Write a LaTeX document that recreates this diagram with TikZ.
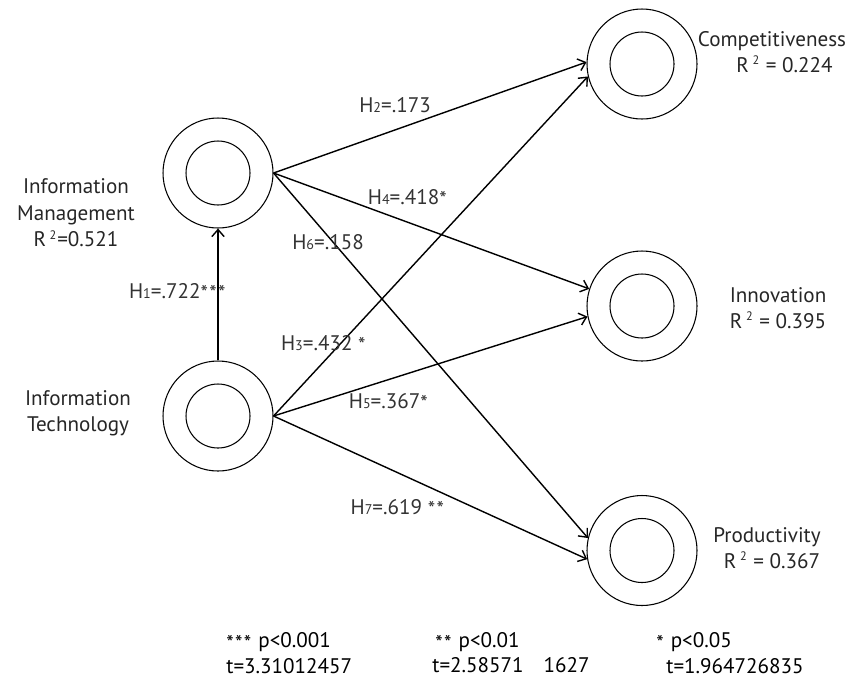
\documentclass[tikz,border=0pt]{standalone}
\usepackage{fontspec}
\setmainfont{PT Sans}
\usepackage{tikz}
\usetikzlibrary{arrows.meta}

\newcommand{\hsub}[1]{{\fontsize{8}{8}\selectfont #1}}
\newcommand{\rsq}{R\,\textsuperscript{\fontsize{7}{7}\selectfont 2}}
\newcommand{\astk}{\raisebox{-0.25ex}{*}\kern0.8pt}

\tikzset{
  construct/.style={circle, draw, line width=0.6pt, minimum size=2.2cm, inner sep=0pt,
    path picture={\draw[line width=0.6pt] (path picture bounding box.center) circle (0.64cm);}},
  path/.style={->, line width=0.8pt, >={Straight Barb[length=4pt,width=7pt]}},
  hyp/.style={inner sep=1pt, text=black!80},
  cname/.style={align=center, text=black!85},
  legend/.style={anchor=north west, inner sep=0pt, align=left, font=\fontsize{12}{15}\selectfont}
}

\begin{document}
\begin{tikzpicture}[font=\fontsize{12}{15}\selectfont]

\useasboundingbox (0,0) rectangle (17.1,-13.56);

% constructs
\node[construct] (IM) at (4.36,-3.46) {};
\node[construct] (IT) at (4.36,-8.32) {};
\node[construct] (Comp) at (12.84,-1.28) {};
\node[construct] (Inno) at (12.84,-6.12) {};
\node[construct] (Prod) at (12.84,-11.01) {};

\node[cname] (IMlab) at (1.52,-4.26) {Information\\Management\\\rsq=0.521};
\node[cname] (ITlab) at (1.56,-8.26) {Information\\Technology};
\node[cname] (Complab) at (15.44,-1.04) {Competitiveness\\\hspace*{0.5cm}\rsq{} = 0.224};
\node[cname] (Innolab) at (15.56,-6.16) {Innovation\\\rsq{} = 0.395};
\node[cname] (Prodlab) at (15.34,-10.96) {Productivity\\\hspace*{0.2cm}\rsq{} = 0.367};

% paths
\draw[path] (IT.north) -- (IM.south);
\draw[path] (IM.east) -- (Comp.178);
\draw[path] (IM.east) -- (Inno.162);
\draw[path] (IM.east) -- (Prod.167);
\draw[path] (IT.east) -- (Comp.193);
\draw[path] (IT.east) -- (Inno.191);
\draw[path] (IT.east) -- (Prod.189);

\node[hyp] (h1) at (3.56,-5.84) {H\hsub{1}=.722\astk\astk\astk};
\node[hyp] (h2) at (7.9,-2.1) {H\hsub{2}=.173};
\node[hyp] (h3) at (6.48,-6.88) {H\hsub{3}=.432 \astk};
\node[hyp] (h4) at (8.16,-3.96) {H\hsub{4}=.418\astk};
\node[hyp] (h5) at (7.78,-8.04) {H\hsub{5}=.367\astk};
\node[hyp] (h6) at (6.56,-4.84) {H\hsub{6}=.158};
\node[hyp] (h7) at (7.96,-10.16) {H\hsub{7}=.619 \astk\astk};

% significance levels
\node[legend] (sig1) at (4.52,-12.64) {\astk\astk\astk\ p<0.001\\t=3.31012457};
\node[legend] (sig2) at (8.7,-12.64) {\astk\astk\ p<0.01\\[-0.5pt]\hspace*{-0.06cm}t=2.58571\hspace{0.4cm}1627};
\node[legend] (sig3) at (13.12,-12.64) {\astk\ p<0.05\\\hspace*{0.2cm}t=1.964726835};

\end{tikzpicture}
\end{document}
